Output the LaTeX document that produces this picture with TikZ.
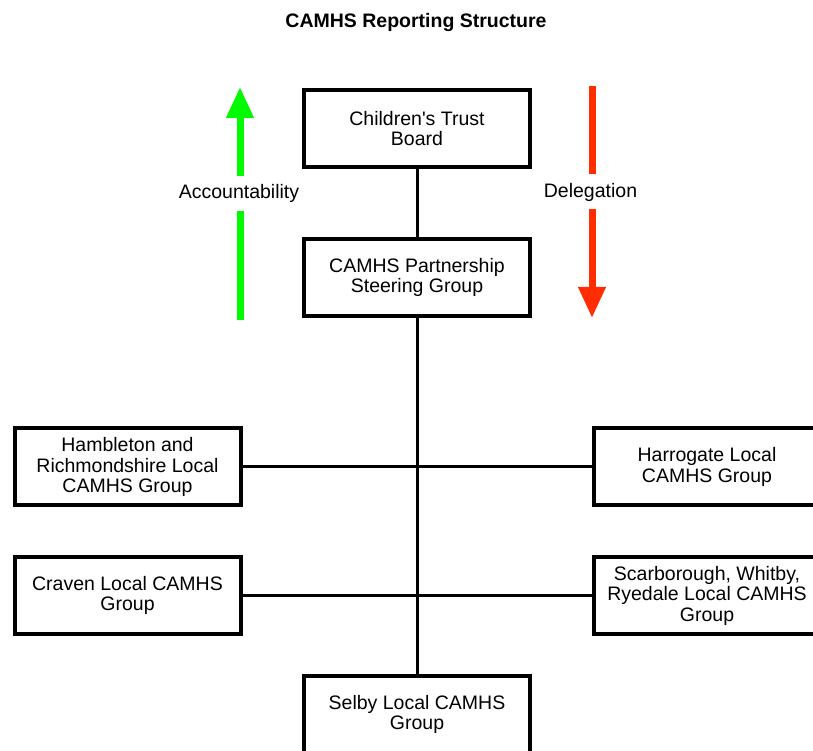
\documentclass[tikz,border=0pt]{standalone}
\usepackage{fontspec}
\setmainfont{Liberation Sans}
\usetikzlibrary{arrows.meta}
\definecolor{accgreen}{RGB}{0,250,0}
\definecolor{delred}{RGB}{255,45,0}
\begin{document}
\begin{tikzpicture}[x=1pt,y=1pt,
  box/.style={draw, line width=4pt, minimum width=226pt, minimum height=77pt,
    inner sep=0pt, align=center, font=\fontsize{19.5}{20.5}\selectfont},
  link/.style={line width=3pt},
  lbl/.style={anchor=base, inner sep=0pt, font=\fontsize{19.5}{20.5}\selectfont},
  gshaft/.style={accgreen, line width=7pt},
  rshaft/.style={delred, line width=7pt},
  tip/.style={-{Triangle[width=26pt,length=31pt]}}]
\useasboundingbox (0,0) rectangle (813,751);
\clip (0,0) rectangle (813,751);

\node[lbl, font=\bfseries\fontsize{19.5}{20.5}\selectfont] (title) at (416,723) {CAMHS Reporting Structure};

\node[box] (ctb)  at (417,622.5) {Children\textquotesingle s Trust\\Board};
\node[box] (cpsg) at (417,473.5) {CAMHS Partnership\\Steering Group};
\node[box] (ham)  at (127.5,284) {Hambleton and\\Richmondshire Local\\CAMHS Group};
\node[box] (har)  at (707,284) {Harrogate Local\\CAMHS Group};
\node[box] (cra)  at (127.5,155.5) {Craven Local CAMHS\\Group};
\node[box] (sca)  at (707,155.5) {Scarborough, Whitby,\\Ryedale Local CAMHS\\Group};
\node[box] (sel)  at (417,36.5) {Selby Local CAMHS\\Group};

\draw[link] (ctb.south) -- (cpsg.north);
\draw[link] (cpsg.south) -- (sel.north);
\draw[link] (ham.east) -- (har.west);
\draw[link] (cra.east) -- (sca.west);

\node[lbl] (acc) at (239,552) {Accountability};
\node[lbl] (del) at (590.5,553) {Delegation};

\coordinate (g1) at (240,431);
\coordinate (g2) at (240,540);
\coordinate (g3) at (240,575);
\coordinate (g4) at (240,664);
\draw[gshaft] (g1) -- (g2);
\draw[gshaft, tip] (g3) -- (g4);

\coordinate (r1) at (592,665);
\coordinate (r2) at (592,577);
\coordinate (r3) at (592,542);
\coordinate (r4) at (592,433);
\draw[rshaft] (r1) -- (r2);
\draw[rshaft, tip] (r3) -- (r4);
\end{tikzpicture}
\end{document}
